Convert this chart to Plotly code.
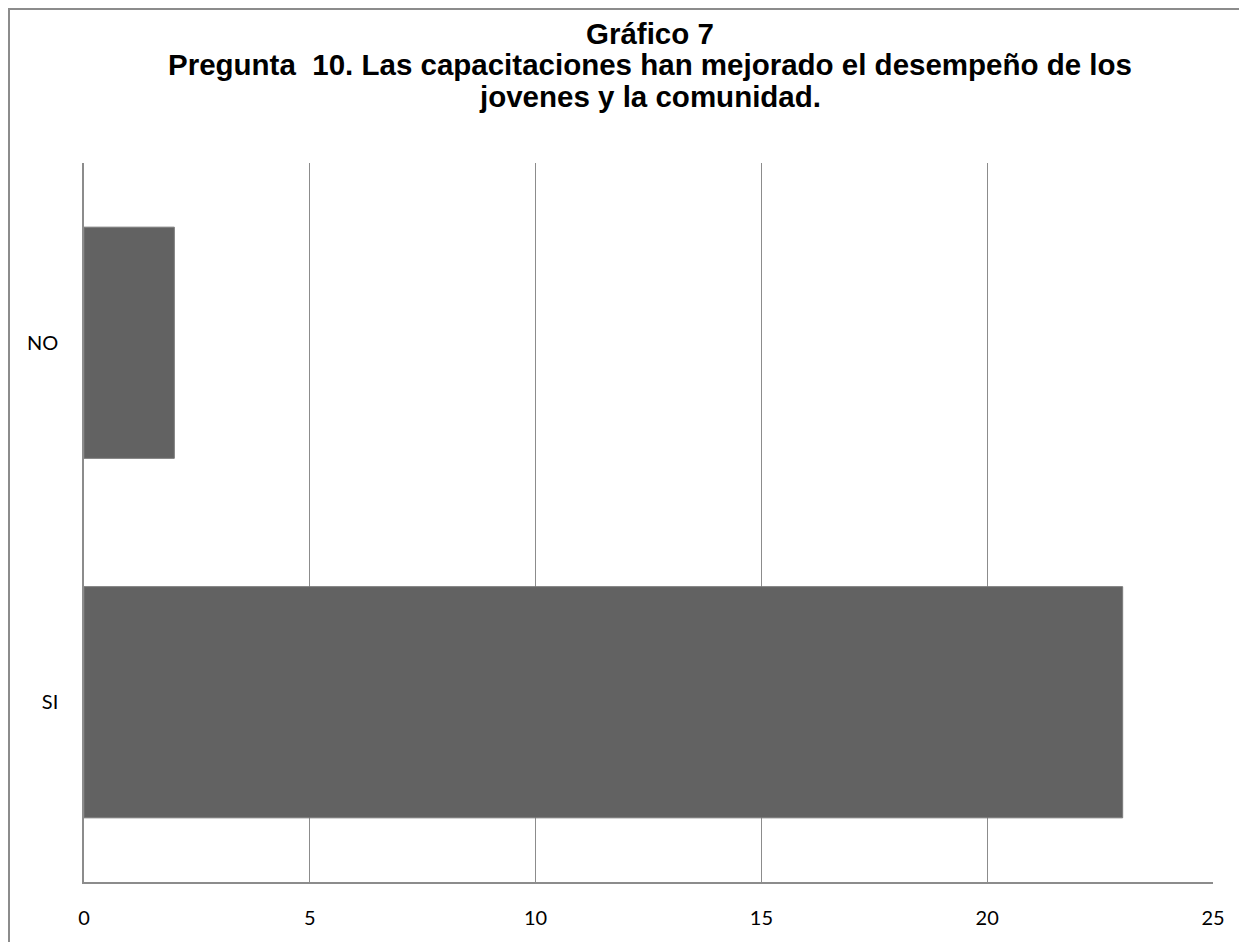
import plotly.graph_objects as go

categories = ["SI", "NO"]
values = [23, 2]
x_ticks = [0, 5, 10, 15, 20, 25]
title_lines = ["Gráfico 7",
               "Pregunta  10. Las capacitaciones han mejorado el desempeño de los",
               "jovenes y la comunidad."]

# page body margin offset
OX, OY = 8, 8
W, H = 1247 - OX, 942 - OY
L, R, T, B = 84 - OX, 1213 - OX, 163 - OY, 882 - OY

def px(x):
    return (x - OX - L) / (R - L)

def py(y):
    return (B - (y - OY)) / (B - T)

fig = go.Figure(go.Bar(
    y=categories, x=values, orientation="h",
    marker=dict(color="#626262", line=dict(color="#7a7a7a", width=1)),
    width=0.643,
))

title_y = [33, 65, 97]
annotations = [
    dict(text="<b>%s</b>" % t, x=px(650), y=py(yc), xref="paper", yref="paper",
         xanchor="center", yanchor="middle", showarrow=False,
         font=dict(family="Liberation Sans, Arial", size=29.5, color="black"))
    for t, yc in zip(title_lines, title_y)
]

fig.update_layout(
    width=W, height=H,
    margin=dict(l=L, r=W - R, t=T, b=H - B),
    paper_bgcolor="white", plot_bgcolor="white",
    showlegend=False,
    font=dict(family="Lato, Open Sans, sans-serif", size=20, color="black"),
    annotations=annotations,
    shapes=[
        dict(type="rect", xref="paper", yref="paper",
             x0=px(9), x1=px(1260), y0=py(990), y1=py(9),
             line=dict(color="#8c8c8c", width=2), fillcolor="rgba(0,0,0,0)", layer="below"),
    ],
)

fig.update_xaxes(
    range=[0, 25], tickvals=x_ticks, ticktext=[str(v) for v in x_ticks],
    showgrid=True, gridcolor="#8c8c8c", gridwidth=1,
    showline=True, linecolor="#8c8c8c", linewidth=1.5,
    zeroline=False, ticks="", ticklabelstandoff=17,
    tickfont=dict(family="Lato, Open Sans, sans-serif", size=20),
)
fig.update_yaxes(
    categoryorder="array", categoryarray=categories,
    showgrid=False, showline=True, linecolor="#8c8c8c", linewidth=1.5,
    ticks="", ticklabelstandoff=20,
    tickfont=dict(family="Lato, Open Sans, sans-serif", size=20),
)

fig.write_html("out.html")
